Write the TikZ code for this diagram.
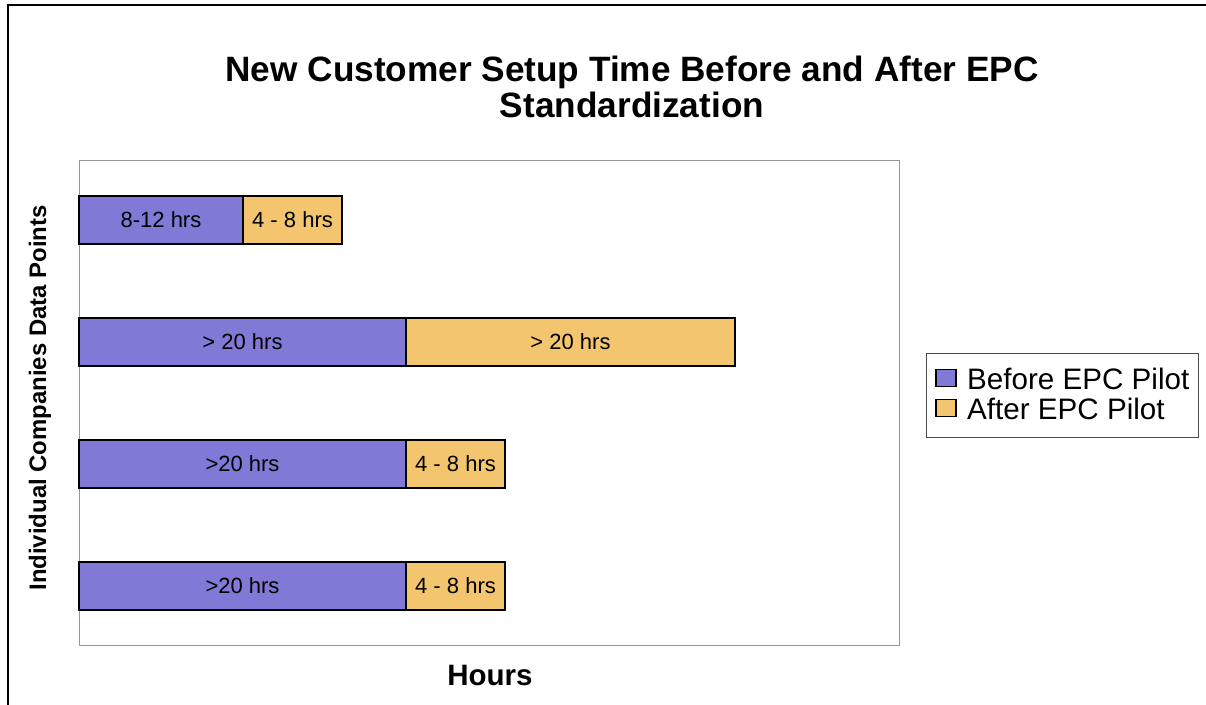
\documentclass[tikz,border=0pt]{standalone}
\usepackage{fontspec}
\setmainfont{Liberation Sans}
\definecolor{beforecol}{RGB}{128,122,214}
\definecolor{aftercol}{RGB}{243,197,110}
\definecolor{framegray}{RGB}{150,150,150}
\begin{document}
\begin{tikzpicture}[x=1pt,y=-1pt,
  barbase/.style={draw=black, line width=1.2pt, inner sep=0pt, outer sep=0pt,
    minimum height=48pt, anchor=west, font=\fontsize{22}{24}\selectfont},
  beforebar/.style={barbase, fill=beforecol},
  afterbar/.style={barbase, fill=aftercol},
  keybox/.style={draw=black, line width=1.2pt, inner sep=0pt,
    minimum width=20pt, minimum height=17pt},
  keytext/.style={anchor=west, inner sep=0pt, font=\fontsize{29.6}{30}\selectfont}]
% canvas
\useasboundingbox (0,0) rectangle (1206,704);
\fill[white] (0,0) rectangle (1206,704);
\begin{scope}
\clip (0,0) rectangle (1206,704);
% outer chart frame (runs off the page on the right and bottom)
\draw[line width=1.6pt] (8,712) -- (8,5) -- (1215,5);
\end{scope}
% title
\node[align=center, font=\bfseries\fontsize{35.2}{35.5}\selectfont] (title) at (632,87)
  {New Customer Setup Time Before and After EPC\\Standardization};
% plot area
\draw[framegray, line width=1pt] (79,160) rectangle (899,645);
% bars
\node[beforebar, minimum width=164pt] (b1) at (79,220) {8-12 hrs};
\node[afterbar, minimum width=99pt] (a1) at (b1.east) {4 - 8 hrs};
\node[beforebar, minimum width=327pt] (b2) at (79,342) {> 20 hrs};
\node[afterbar, minimum width=329pt] (a2) at (b2.east) {> 20 hrs};
\node[beforebar, minimum width=327pt] (b3) at (79,464) {>20 hrs};
\node[afterbar, minimum width=99pt] (a3) at (b3.east) {4 - 8 hrs};
\node[beforebar, minimum width=327pt] (b4) at (79,586) {>20 hrs};
\node[afterbar, minimum width=99pt] (a4) at (b4.east) {4 - 8 hrs};
% axis titles
\node[rotate=90, font=\bfseries\fontsize{23.9}{25}\selectfont] (ylab) at (40,398)
  {Individual Companies Data Points};
\node[font=\bfseries\fontsize{29.5}{31}\selectfont] (xlab) at (490,675) {Hours};
% legend
\draw[black!70, line width=0.8pt] (926,353) rectangle (1198,437);
\node[keybox, fill=beforecol] (k1) at (946,378) {};
\node[keytext] (t1) at (967,379) {Before EPC Pilot};
\node[keybox, fill=aftercol] (k2) at (946,408) {};
\node[keytext] (t2) at (967,409) {After EPC Pilot};
\end{tikzpicture}
\end{document}
